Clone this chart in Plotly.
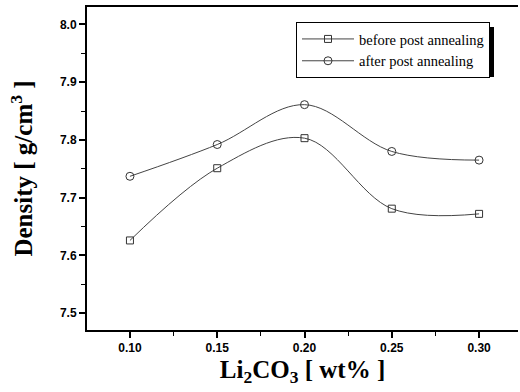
import plotly.graph_objects as go

x_vals = [0.10, 0.15, 0.20, 0.25, 0.30]
before_vals = [7.626, 7.751, 7.803, 7.681, 7.672]
after_vals = [7.737, 7.792, 7.861, 7.780, 7.765]
x_ticks = [0.10, 0.15, 0.20, 0.25, 0.30]
x_tick_text = ["0.10", "0.15", "0.20", "0.25", "0.30"]
y_ticks = [7.5, 7.6, 7.7, 7.8, 7.9, 8.0]
y_tick_text = ["7.5", "7.6", "7.7", "7.8", "7.9", "8.0"]

L, R, T, B = 87, 2, 7, 62
W, H = 520, 392
pw, ph = W - L - R, H - T - B

def px(x):
    return (x - L) / pw

def py(y):
    return (H - B - y) / ph

fig = go.Figure()
fig.add_trace(go.Scatter(
    x=x_vals, y=before_vals, mode="lines+markers", name="before post annealing",
    line=dict(shape="spline", color="#444", width=1),
    marker=dict(symbol="square-open", size=7, color="#333", line=dict(width=1)),
))
fig.add_trace(go.Scatter(
    x=x_vals, y=after_vals, mode="lines+markers", name="after post annealing",
    line=dict(shape="spline", color="#444", width=1),
    marker=dict(symbol="circle-open", size=8, color="#333", line=dict(width=1)),
))

# legend drop shadow (legend itself is drawn on top with white background)
fig.add_shape(type="rect", xref="paper", yref="paper",
              x0=px(301), x1=px(494), y0=py(77), y1=py(27),
              fillcolor="black", line=dict(width=0), layer="above")

serif = "Liberation Serif, Times New Roman, serif"
tickfont = dict(family="Arial, Liberation Sans", size=12, color="black", weight="bold")
fig.update_layout(
    width=W, height=H,
    margin=dict(l=L, r=R, t=T, b=B, autoexpand=False),
    paper_bgcolor="white", plot_bgcolor="white",
    showlegend=True,
    legend=dict(x=px(296), y=py(22), xanchor="left", yanchor="top",
                bgcolor="white", bordercolor="black", borderwidth=1,
                font=dict(family=serif, size=14.5, color="black"),
                itemwidth=52, tracegroupgap=0),
    xaxis=dict(range=[0.0754, 0.3223], tickvals=x_ticks, ticktext=x_tick_text,
               automargin=False,
               showgrid=False, zeroline=False, showline=True, linecolor="black", linewidth=2,
               mirror=True, ticks="outside", ticklen=6, tickwidth=1.5, tickcolor="black",
               tickfont=tickfont,
               minor=dict(dtick=0.025, tick0=0.0, ticks="outside", ticklen=4, tickwidth=1, tickcolor="black"),
               title=dict(text="Li<sub>2</sub>CO<sub>3</sub> [ wt% ]", standoff=6,
                          font=dict(family=serif, size=25, color="black", weight="bold"))),
    yaxis=dict(range=[7.471, 8.03], tickvals=y_ticks, ticktext=y_tick_text,
               automargin=False,
               showgrid=False, zeroline=False, showline=True, linecolor="black", linewidth=2,
               ticks="outside", ticklen=6, tickwidth=1.5, tickcolor="black",
               tickfont=tickfont,
               minor=dict(dtick=0.05, tick0=7.45, ticks="outside", ticklen=4, tickwidth=1, tickcolor="black"),
               title=dict(text="Density [ g/cm<sup>3</sup> ]", standoff=20,
                          font=dict(family=serif, size=25, color="black", weight="bold"))),
)

fig.write_html("out.html", config={"displayModeBar": False},
               post_script="document.body.style.margin='0px';")
